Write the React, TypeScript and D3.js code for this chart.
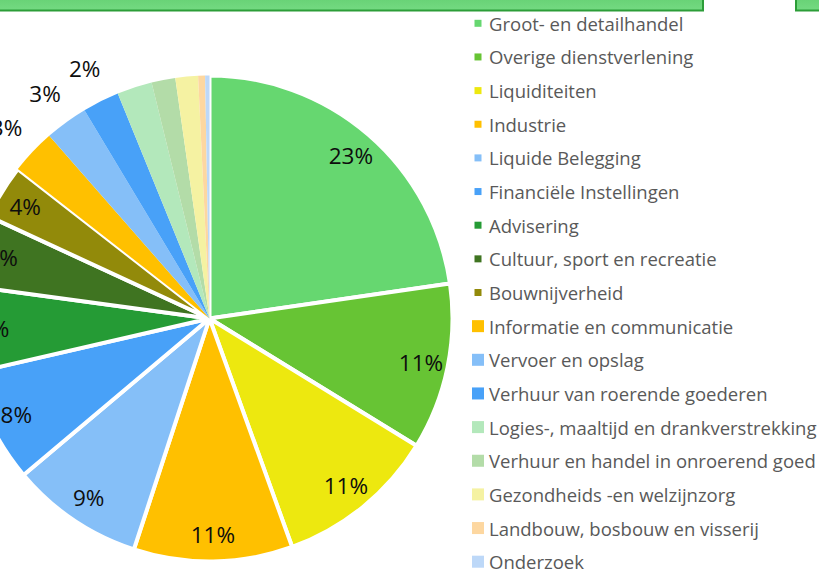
import React from "react";
import * as d3 from "d3";

const categories = [
  "Groot- en detailhandel",
  "Overige dienstverlening",
  "Liquiditeiten",
  "Industrie",
  "Liquide Belegging",
  "Financiële Instellingen",
  "Advisering",
  "Cultuur, sport en recreatie",
  "Bouwnijverheid",
  "Informatie en communicatie",
  "Vervoer en opslag",
  "Verhuur van roerende goederen",
  "Logies-, maaltijd en drankverstrekking",
  "Verhuur en handel in onroerend goed",
  "Gezondheids -en welzijnzorg",
  "Landbouw, bosbouw en visserij",
  "Onderzoek",
];

const values = [22.7, 11.07, 10.7, 10.56, 8.83, 7.53, 5.75, 4.75, 3.64, 3.0, 2.86, 2.44, 2.33, 1.58, 1.5, 0.46, 0.29];

const colors = [
  "#66D770", "#67C434", "#EDE80F", "#FFC000", "#85BFF8", "#48A1F8",
  "#259B35", "#3F7421", "#928A0A", "#FFC000", "#85BFF8", "#48A1F8",
  "#B3E8BB", "#B3DCA8", "#F5F2A2", "#FDD7A0", "#BDD8F8",
];

// slices that carry a white border (first nine)
const borderedCount = 9;
// labels shown: first twelve; first nine inside, next three outside
const labelledCount = 12;
const insideCount = 9;

const W = 819;
const H = 569;
const cx = 209.5;
const cy = 318.5;
const R = 243;

export default function App() {
  const total = d3.sum(values);
  const pie = d3.pie<number>().sort(null).value((d) => d).startAngle(0).endAngle(2 * Math.PI);
  const arcs = pie(values);
  const arc = d3.arc<d3.PieArcDatum<number>>().innerRadius(0).outerRadius(R);
  const inLab = d3.arc<d3.PieArcDatum<number>>().innerRadius(216).outerRadius(216);
  const outLab = d3.arc<d3.PieArcDatum<number>>().innerRadius(279).outerRadius(279);

  const legendY = d3.scaleLinear().domain([0, categories.length - 1]).range([23.3, 561.7]);

  return (
    <div style={{ position: "absolute", left: 0, top: 0, width: W, height: H, background: "#fff" }}>
      <svg width={W} height={H} style={{ display: "block" }}>
        <defs>
          <linearGradient id="boxg" x1="0" y1="0" x2="0" y2="1">
            <stop offset="0" stopColor="#5fcc6c" />
            <stop offset="1" stopColor="#74da82" />
          </linearGradient>
        </defs>
        <rect x={-5} y={-10} width={708} height={20.5} fill="url(#boxg)" stroke="#2c9d38" strokeWidth={2} />
        <rect x={796} y={-10} width={40} height={20.5} fill="url(#boxg)" stroke="#2c9d38" strokeWidth={2} />

        <g transform={`translate(${cx},${cy})`}>
          {arcs.map((a, i) => (
            <path
              key={i}
              d={arc(a) || ""}
              fill={colors[i]}
              stroke={i < borderedCount ? "#fff" : "none"}
              strokeWidth={i < borderedCount ? 4 : 0}
              strokeLinejoin="round"
            />
          ))}
          {arcs.slice(0, labelledCount).map((a, i) => {
            const [x, y] = i < insideCount ? inLab.centroid(a) : outLab.centroid(a);
            return (
              <text
                key={i}
                x={x}
                y={y}
                textAnchor="middle"
                dominantBaseline="central"
                fontFamily="'Open Sans', sans-serif"
                fontSize={22.5}
                fill="#0d0d0d"
              >
                {Math.round((values[i] / total) * 100)}%
              </text>
            );
          })}
        </g>

        <g>
          {categories.map((c, i) => {
            const y = legendY(i);
            const s = i < borderedCount ? 7 : 12;
            return (
              <g key={i}>
                <rect x={478 - s / 2} y={y - s / 2} width={s} height={s} fill={colors[i]} />
                <text
                  x={489}
                  y={y}
                  dominantBaseline="central"
                  fontFamily="'Open Sans', sans-serif"
                  fontSize={18.5}
                  fill="#595959"
                >
                  {c}
                </text>
              </g>
            );
          })}
        </g>
      </svg>
    </div>
  );
}
